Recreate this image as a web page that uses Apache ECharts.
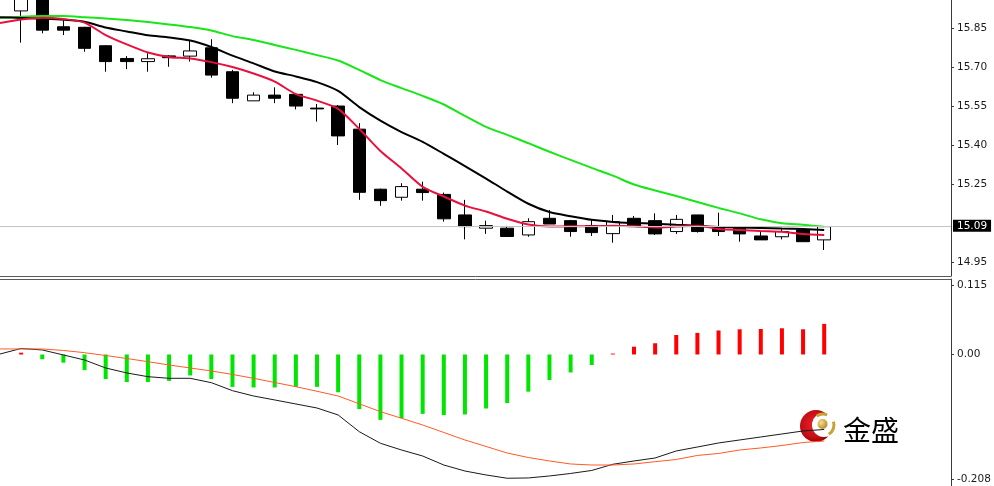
<!DOCTYPE html>
<html><head><meta charset="utf-8">
<script src="https://cdn.jsdelivr.net/npm/echarts@6/dist/echarts.min.js"></script>
<style>html,body{margin:0;padding:0;background:#fff}#c{width:994px;height:486px}</style>
</head><body><div id="c"></div>
<script>
// ---- data ----
const categories = ['0','1','2','3','4','5','6','7','8','9','10','11','12','13','14','15','16','17','18','19','20','21','22','23','24','25','26','27','28','29','30','31','32','33','34','35','36','37','38','39','40','41','42','43','44','45'];
// candles sit on categories 1..39
const candleOpen  = [15.917,15.980,15.856,15.854,15.783,15.734,15.722,15.744,15.743,15.775,15.683,15.571,15.593,15.596,15.543,15.551,15.462,15.231,15.200,15.231,15.211,15.132,15.081,15.081,15.055,15.119,15.110,15.091,15.060,15.119,15.110,15.068,15.132,15.087,15.081,15.051,15.048,15.074,15.036];
const candleClose = [15.985,15.843,15.843,15.773,15.722,15.722,15.733,15.737,15.763,15.670,15.581,15.593,15.581,15.551,15.540,15.436,15.219,15.187,15.241,15.218,15.117,15.087,15.091,15.049,15.106,15.097,15.068,15.064,15.106,15.087,15.059,15.115,15.068,15.068,15.059,15.036,15.068,15.029,15.087];
const candleLow   = [15.795,15.831,15.824,15.760,15.683,15.693,15.683,15.702,15.722,15.660,15.562,15.571,15.562,15.538,15.491,15.401,15.190,15.167,15.187,15.187,15.106,15.038,15.059,15.049,15.048,15.097,15.048,15.051,15.025,15.087,15.055,15.059,15.064,15.051,15.029,15.036,15.038,15.029,14.997];
const candleHigh  = [16.000,16.000,15.879,15.856,15.785,15.743,15.754,15.747,15.802,15.808,15.690,15.604,15.623,15.598,15.559,15.555,15.485,15.233,15.254,15.260,15.218,15.190,15.110,15.090,15.119,15.151,15.113,15.115,15.132,15.128,15.138,15.132,15.132,15.141,15.085,15.068,15.077,15.077,15.087];
// moving averages on categories 0..39
const maGreen = [15.890,15.895,15.897,15.897,15.893,15.888,15.882,15.874,15.865,15.855,15.842,15.820,15.805,15.786,15.767,15.747,15.726,15.690,15.651,15.620,15.590,15.557,15.513,15.471,15.440,15.408,15.375,15.344,15.313,15.283,15.249,15.226,15.205,15.182,15.159,15.138,15.115,15.100,15.094,15.087];
const maBlack = [15.893,15.890,15.887,15.883,15.875,15.853,15.838,15.823,15.815,15.803,15.778,15.745,15.715,15.684,15.665,15.643,15.609,15.547,15.495,15.451,15.413,15.367,15.320,15.272,15.222,15.175,15.143,15.127,15.113,15.105,15.101,15.098,15.094,15.090,15.086,15.084,15.082,15.080,15.078,15.074];
const maRed   = [15.870,15.884,15.891,15.886,15.872,15.824,15.788,15.757,15.740,15.734,15.720,15.701,15.676,15.645,15.597,15.572,15.540,15.463,15.378,15.311,15.240,15.203,15.168,15.145,15.117,15.095,15.087,15.088,15.088,15.090,15.088,15.084,15.087,15.090,15.078,15.074,15.070,15.067,15.059,15.055];
const lastPrice = 15.09;
// MACD panel on categories 0..39
const macdHist = [null,0.003,-0.008,-0.0137,-0.026,-0.041,-0.046,-0.046,-0.044,-0.035,-0.041,-0.054,-0.055,-0.055,-0.054,-0.054,-0.063,-0.091,-0.109,-0.106,-0.099,-0.101,-0.100,-0.090,-0.081,-0.062,-0.0425,-0.030,-0.0175,0.0015,0.013,0.0187,0.0325,0.036,0.040,0.042,0.0425,0.0437,0.042,0.051];
const macdMain = [0.0008,0.010,0.0075,-0.0008,-0.0092,-0.0225,-0.0308,-0.037,-0.0397,-0.0397,-0.047,-0.0603,-0.0692,-0.0758,-0.0825,-0.0892,-0.1008,-0.1287,-0.148,-0.1592,-0.1692,-0.1842,-0.1942,-0.2008,-0.2063,-0.2058,-0.2025,-0.1983,-0.1933,-0.183,-0.1775,-0.1725,-0.1608,-0.1542,-0.1475,-0.1425,-0.1375,-0.1325,-0.1275,-0.125];
const macdSignal = [0.0092,0.0092,0.0092,0.0067,0.003,-0.0017,-0.0067,-0.012,-0.0175,-0.0225,-0.0275,-0.0333,-0.0397,-0.0467,-0.0537,-0.0613,-0.0692,-0.0822,-0.0953,-0.1063,-0.1175,-0.13,-0.1425,-0.1533,-0.1642,-0.1717,-0.1775,-0.1825,-0.1842,-0.1842,-0.1825,-0.1787,-0.175,-0.1683,-0.165,-0.1592,-0.1558,-0.1517,-0.1467,-0.1442];
const priceTicks = [14.95, 15.25, 15.40, 15.55, 15.70, 15.85];
const macdTicks = [-0.208, 0, 0.115];
const macdTickLabels = ['-0.208', '0.00', '0.115'];
const logoText = '金盛';

// ---- build ----
const candleData = ['-'];
for (let i = 0; i < candleOpen.length; i++) {
  candleData.push([candleOpen[i], candleClose[i], candleLow[i], candleHigh[i]]);
}
const labelFont = {fontFamily: 'DejaVu Sans', fontSize: 10.5, color: '#1a1a1a'};
const chart = echarts.init(document.getElementById('c'), null, {renderer: 'canvas'});
const option = {
  animation: false,
  backgroundColor: '#ffffff',
  grid: [
    {left: 0, top: 0, width: 951, height: 276},
    {left: 0, top: 279, width: 951, height: 207}
  ],
  xAxis: [
    {type: 'category', gridIndex: 0, data: categories, boundaryGap: false,
     axisLine: {show: true, onZero: false, lineStyle: {color: '#5a5a5a', width: 1}},
     axisTick: {show: false}, axisLabel: {show: false}, splitLine: {show: false}},
    {type: 'category', gridIndex: 1, data: categories, boundaryGap: false, position: 'top',
     axisLine: {show: true, onZero: false, lineStyle: {color: '#5a5a5a', width: 1}},
     axisTick: {show: false}, axisLabel: {show: false}, splitLine: {show: false}}
  ],
  yAxis: [
    {type: 'value', gridIndex: 0, position: 'right', min: 14.897, max: 15.959, scale: true,
     splitLine: {show: false},
     axisLine: {show: true, lineStyle: {color: '#3a3a3a'}},
     axisTick: {show: true, customValues: priceTicks, length: 3, lineStyle: {color: '#3a3a3a'}},
     axisLabel: Object.assign({customValues: priceTicks, margin: 6, formatter: v => v.toFixed(2)}, labelFont)},
    {type: 'value', gridIndex: 1, position: 'right', min: -0.2192, max: 0.1258,
     splitLine: {show: false},
     axisLine: {show: true, lineStyle: {color: '#3a3a3a'}},
     axisTick: {show: true, customValues: macdTicks, length: 3, lineStyle: {color: '#3a3a3a'}},
     axisLabel: Object.assign({customValues: macdTicks, margin: 6, formatter: v => {
        let best = 0;
        for (let i = 1; i < macdTicks.length; i++) if (Math.abs(macdTicks[i] - v) < Math.abs(macdTicks[best] - v)) best = i;
        return macdTickLabels[best];
     }}, labelFont)}
  ],
  series: [
    {type: 'line', xAxisIndex: 0, yAxisIndex: 0, data: [], z: 1, silent: true,
     markLine: {silent: true, symbol: ['none', 'none'], animation: false,
       data: [{yAxis: lastPrice}],
       lineStyle: {color: '#c4c4c4', width: 1, type: 'solid'},
       label: Object.assign({position: 'end', distance: 2, formatter: lastPrice.toFixed(2),
         backgroundColor: '#000000', padding: [1, 4, 0, 4]}, labelFont, {color: '#ffffff'})}
    },
    {type: 'candlestick', xAxisIndex: 0, yAxisIndex: 0, data: candleData, barWidth: 13, clip: true, z: 2,
     itemStyle: {color: '#ffffff', color0: '#000000', borderColor: '#000000', borderColor0: '#000000', borderWidth: 1}},
    {type: 'line', xAxisIndex: 0, yAxisIndex: 0, data: maGreen, symbol: 'none', smooth: 0.25, z: 3, lineStyle: {color: '#19e619', width: 2}},
    {type: 'line', xAxisIndex: 0, yAxisIndex: 0, data: maBlack, symbol: 'none', smooth: 0.25, z: 3, lineStyle: {color: '#000000', width: 2}},
    {type: 'line', xAxisIndex: 0, yAxisIndex: 0, data: maRed, symbol: 'none', smooth: 0.25, z: 3, lineStyle: {color: '#e8103c', width: 2}},
    {type: 'bar', xAxisIndex: 1, yAxisIndex: 1, data: macdHist, barWidth: 4,
     itemStyle: {color: p => (p.value >= 0 ? '#ff0000' : '#00e600')}},
    {type: 'line', xAxisIndex: 1, yAxisIndex: 1, data: macdMain, symbol: 'none', lineStyle: {color: '#1a1a1a', width: 1}},
    {type: 'line', xAxisIndex: 1, yAxisIndex: 1, data: macdSignal, symbol: 'none', lineStyle: {color: '#ff5a28', width: 1}}
  ],
  graphic: [
    {type: 'group', z: 100, children: [
      {type: 'circle', shape: {cx: 816, cy: 426, r: 16},
       style: {fill: new echarts.graphic.RadialGradient(0.45, 0.45, 0.6, [
         {offset: 0, color: '#e8252a'}, {offset: 0.7, color: '#c40d14'}, {offset: 1, color: '#8a0008'}])}},
      {type: 'circle', shape: {cx: 824, cy: 425, r: 12}, style: {fill: '#ffffff'}},
      {type: 'arc', shape: {cx: 823, cy: 425, r: 11, startAngle: -125 * Math.PI / 180, endAngle: -68 * Math.PI / 180},
       style: {stroke: '#c9a235', lineWidth: 3, fill: 'none'}},
      {type: 'arc', shape: {cx: 823, cy: 425, r: 11, startAngle: -18 * Math.PI / 180, endAngle: 58 * Math.PI / 180},
       style: {stroke: '#c9a235', lineWidth: 3, fill: 'none'}},
      {type: 'circle', shape: {cx: 822.5, cy: 424, r: 5},
       style: {fill: new echarts.graphic.RadialGradient(0.35, 0.35, 0.8, [
         {offset: 0, color: '#f7e08a'}, {offset: 1, color: '#a8801c'}])}},
      {type: 'text', style: {text: logoText, x: 843, y: 430, fill: '#000000',
        fontSize: 28, fontFamily: '"Noto Sans CJK SC"', verticalAlign: 'middle', align: 'left'}}
    ]}
  ]
};
chart.setOption(option);
</script>
</body></html>
